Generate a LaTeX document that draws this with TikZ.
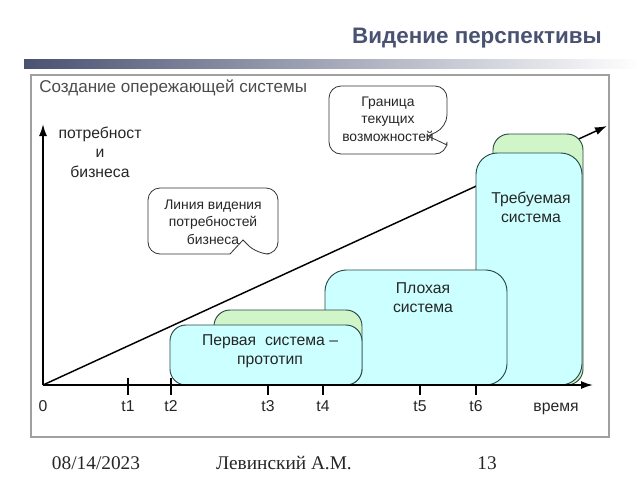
\documentclass[tikz,border=0pt]{standalone}
\usepackage{fontspec}
\setmainfont{Liberation Sans}
\newfontfamily\footfont{Liberation Serif}
\usetikzlibrary{arrows.meta}
\definecolor{titleblue}{RGB}{74,82,114}
\definecolor{boxcyan}{RGB}{204,255,255}
\definecolor{boxgreen}{RGB}{208,245,200}
\definecolor{boxline}{RGB}{40,72,70}
\definecolor{framegray}{RGB}{160,160,160}
\tikzset{
  axis/.style={line width=1.3pt,-{Latex[length=9pt,width=6pt]}},
  sysbox/.style={draw=boxline,line width=0.7pt,fill=boxcyan,rounded corners=12},
  backbox/.style={draw=boxline,line width=0.7pt,fill=boxgreen,rounded corners=12},
  callout/.style={draw=black!80,line width=0.6pt,fill=white},
  boxtext/.style={inner sep=0.75pt,align=center,font=\fontsize{11.8}{14.3}\selectfont,text=black!85},
  calltext/.style={inner sep=0.75pt,align=center,font=\fontsize{10.4}{13.2}\selectfont,text=black!85},
  ticktext/.style={inner sep=0.75pt,anchor=base,font=\fontsize{11.8}{14.5}\selectfont,text=black!85},
  foottext/.style={inner sep=0.75pt,font=\footfont\fontsize{14.5}{17}\selectfont,text=black!85}
}
\begin{document}
\begin{tikzpicture}[x=0.75pt,y=0.75pt,yscale=-1,xscale=1]
\useasboundingbox (0,0) rectangle (640,480);

% Title
\draw (603,38) node [anchor=east,inner sep=0.75pt,text=titleblue,font=\fontsize{16.8}{20}\selectfont\bfseries] (title) {Видение перспективы};
\shade [left color=titleblue,right color=white] (24,59) rectangle (640,68);

%Frame
\draw [framegray,line width=0.8pt] (31,75) rectangle (609,437);
% Text Node
\draw (38,88) node [anchor=west,inner sep=0.75pt,text=black!70,font=\fontsize{12.8}{15}\selectfont] (head) {Создание опережающей системы};

%Points of the axes
\coordinate (O) at (43,385);
\coordinate (xtip) at (593,385);
\coordinate (ytip) at (43,124);
\coordinate (vtip) at (607,126);

%Line of vision
\draw [line width=1.1pt,-{Latex[length=9pt,width=6pt]}] (O) -- (vtip);

%Ticks
\foreach \x in {128,171,268,323,420,476}
  \draw [line width=1.1pt] (\x,378) -- (\x,395);

%Rounded Rect: required system
\draw [backbox] (493,134) rectangle (583,385);
\draw [sysbox,rounded corners=16] (476,153) rectangle (582,385);
%Rounded Rect: bad system
\draw [sysbox,rounded corners=16] (325,270) rectangle (507,385);
%Rounded Rect: first system
\draw [backbox] (214,310) rectangle (362,385);
\draw [sysbox] (170,325) rectangle (362,385);

%Axes
\draw [axis] (O) -- (xtip);
\draw [axis] (O) -- (ytip);

%Callouts
\draw [callout] (388,86) [rounded corners=9] -- (447,86) -- (447,127) [sharp corners] -- (428,136) -- (447,145) [rounded corners=9] -- (447,154) -- (329,154) -- (329,86) -- cycle;
\draw [callout] (213,188) [rounded corners=9] -- (278,188) -- (278,254) -- (257,254) [sharp corners] -- (243,240) -- (230,254) [rounded corners=9] -- (148,254) -- (148,188) -- cycle;

% Text Node
\draw (388,119) node [calltext] (border) {Граница\\текущих\\возможностей};
% Text Node
\draw (213,222) node [calltext] (vision) {Линия видения\\потребностей\\бизнеса};
% Text Node
\draw (100,152) node [inner sep=0.75pt,align=center,text=black!85,font=\fontsize{11.8}{14.6}\selectfont] (needs) {потребност\\и\\бизнеса};
% Text Node
\draw (531,207) node [boxtext] (req) {Требуемая\\система};
% Text Node
\draw (423,298) node [boxtext] (bad) {Плохая\\система};
% Text Node
\draw (270,351) node [boxtext] (first) {Первая~~система –\\прототип};

% Text Node
\draw (43,411) node [ticktext] (zero) {0};
\draw (128,411) node [ticktext] (t1) {t1};
\draw (171,411) node [ticktext] (t2) {t2};
\draw (268,411) node [ticktext] (t3) {t3};
\draw (323,411) node [ticktext] (t4) {t4};
\draw (420,411) node [ticktext] (t5) {t5};
\draw (476,411) node [ticktext] (t6) {t6};
\draw (556,411) node [ticktext] (time) {время};

%Footer
\draw (96,463) node [foottext] (date) {08/14/2023};
\draw (284,463) node [foottext] (author) {Левинский А.М.};
\draw (487,463) node [foottext] (page) {13};

\end{tikzpicture}
\end{document}
